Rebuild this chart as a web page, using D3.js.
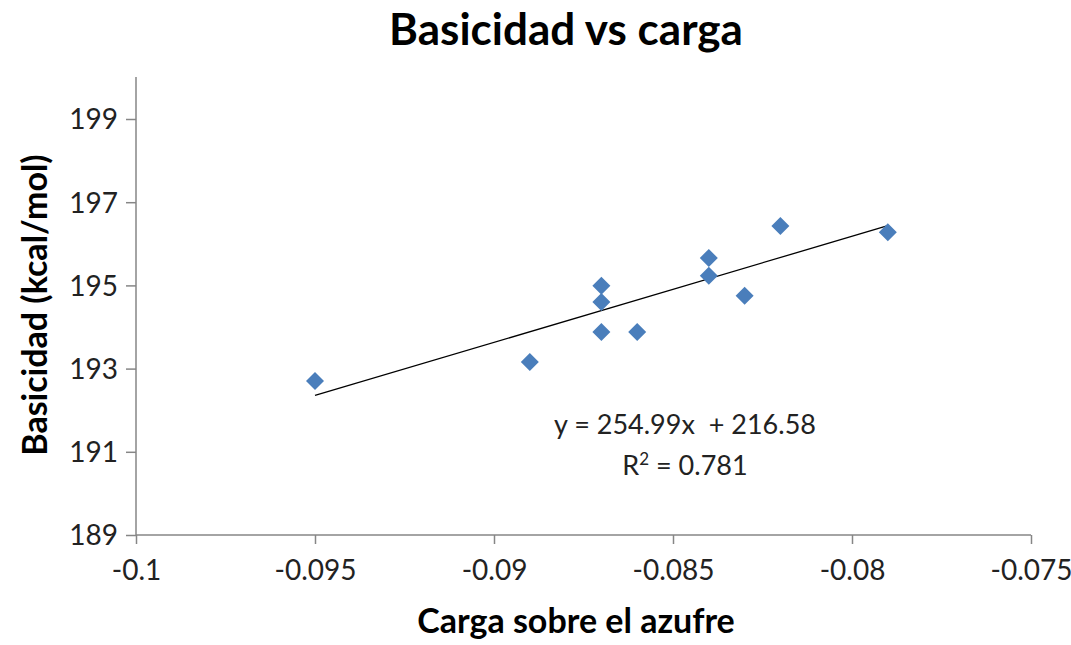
<!DOCTYPE html>
<html><head><meta charset="utf-8">
<script src="https://cdn.jsdelivr.net/npm/d3@7"></script>
<style>body{margin:0;background:#fff}svg{display:block}</style>
</head><body>
<svg id="c" width="1071" height="645"></svg>
<script>
const carga = [-0.095, -0.089, -0.087, -0.087, -0.087, -0.086, -0.084, -0.084, -0.083, -0.082, -0.079];
const basicidad = [192.70, 193.16, 194.99, 194.60, 193.88, 193.88, 195.66, 195.23, 194.75, 196.43, 196.28];
const xTicks = [-0.1, -0.095, -0.09, -0.085, -0.08, -0.075];
const yTicks = [189, 191, 193, 195, 197, 199];
const trendSlope = 254.99, trendIntercept = 216.58;
const trendRange = [-0.095, -0.079];
const eqLabel = "y = 254.99x  + 216.58";
const title = "Basicidad vs carga";
const xTitle = "Carga sobre el azufre";
const yTitle = "Basicidad (kcal/mol)";

const svg = d3.select("#c");
const font = "Lato, 'Open Sans', sans-serif";
const x = d3.scaleLinear().domain([-0.1, -0.075]).range([136, 1031]);
const y = d3.scaleLinear().domain([189, 200]).range([535, 77.4]);
const axisColor = "#868686";

const xAxis = svg.append("g").attr("transform", "translate(0,535)")
  .call(d3.axisBottom(x).tickValues(xTicks).tickSize(9).tickSizeOuter(0).tickPadding(16).tickFormat(d => String(+d.toFixed(3))));
const yAxis = svg.append("g").attr("transform", "translate(136,0)")
  .call(d3.axisLeft(y).tickValues(yTicks).tickSize(10).tickSizeOuter(0).tickPadding(8).tickFormat(d3.format("d")));
[xAxis, yAxis].forEach(g => {
  g.selectAll("line,path").attr("stroke", axisColor).attr("stroke-width", 1.5);
  g.selectAll("text").attr("font-family", font).attr("font-size", 28).attr("fill", "#222");
});
yAxis.select(".domain").attr("d", "M0,77V535");
xAxis.select(".domain").attr("d", `M${x(-0.1)},0H${x(-0.075)}`);
yAxis.selectAll("text").attr("dy", "0.35em");

svg.append("line")
  .attr("x1", x(trendRange[0])).attr("y1", y(trendSlope*trendRange[0]+trendIntercept))
  .attr("x2", x(trendRange[1])).attr("y2", y(trendSlope*trendRange[1]+trendIntercept))
  .attr("stroke", "#000").attr("stroke-width", 1.3);

const sym = d3.symbol(d3.symbolSquare, 162);
svg.append("g").selectAll("path").data(carga.map((c, i) => [c, basicidad[i]])).join("path")
  .attr("d", sym)
  .attr("transform", d => `translate(${x(d[0])},${y(d[1])}) rotate(45)`)
  .attr("fill", "#4a7ebb");

svg.append("text").attr("x", 566).attr("y", 45).attr("text-anchor", "middle")
  .attr("font-family", font).attr("font-weight", "bold").attr("font-size", 44).attr("fill", "#000").text(title);
svg.append("text").attr("x", 576).attr("y", 633).attr("text-anchor", "middle")
  .attr("font-family", font).attr("font-weight", "bold").attr("font-size", 34).attr("fill", "#000").text(xTitle);
svg.append("text").attr("transform", "translate(47,305) rotate(-90)").attr("text-anchor", "middle")
  .attr("font-family", font).attr("font-weight", "bold").attr("font-size", 34).attr("fill", "#000").text(yTitle);

const eq = svg.append("text").attr("text-anchor", "middle").attr("font-family", font).attr("font-size", 27).attr("fill", "#222");
eq.append("tspan").attr("x", 685).attr("y", 434).style("white-space", "pre").text(eqLabel);
const r2 = svg.append("text").attr("x", 685).attr("y", 475).attr("text-anchor", "middle").attr("font-family", font).attr("font-size", 27).attr("fill", "#222");
r2.append("tspan").text("R");
r2.append("tspan").attr("dy", -10).attr("font-size", 17).text("2");
r2.append("tspan").attr("dy", 10).text(" = 0.781");
</script>
</body></html>
